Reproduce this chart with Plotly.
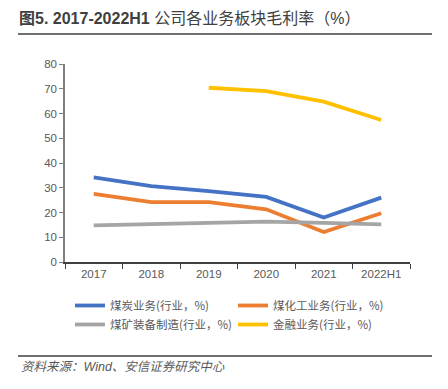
import plotly.graph_objects as go

categories = ["2017", "2018", "2019", "2020", "2021", "2022H1"]
coal = [34.2, 30.7, 28.6, 26.3, 18.0, 26.0]
coal_chem = [27.5, 24.2, 24.2, 21.3, 12.1, 19.7]
equipment = [14.8, 15.2, 15.6, 16.3, 15.8, 15.2]
finance = [None, None, 70.4, 69.0, 64.8, 57.4]

series_names = ["煤炭业务(行业，%)", "煤化工业务(行业，%)", "煤矿装备制造(行业，%)", "金融业务(行业，%)"]
colors = ["#4472C4", "#ED7D31", "#A5A5A5", "#FFC000"]

fig = go.Figure()
for name, vals, c in zip(series_names, [coal, coal_chem, equipment, finance], colors):
    fig.add_trace(go.Scatter(x=categories, y=vals, name=name, mode="lines",
                             line=dict(color=c, width=3.8), connectgaps=False))

# page body has an 8px margin, so the figure is drawn 8px smaller and coordinates offset by 8
OFF = 8
FW, FH = 448 - OFF, 389 - OFF
L, R, T, B = 65 - OFF, 410 - OFF, 64 - OFF, 262 - OFF
W, H = R - L, B - T
def px(x): return (x - OFF - L) / W
def py(y): return (B - (y - OFF)) / H

fig.update_layout(
    width=FW, height=FH,
    margin=dict(l=L, r=FW - R, t=T, b=FH - B, autoexpand=False),
    paper_bgcolor="white", plot_bgcolor="white",
    font=dict(family="Liberation Sans, Noto Sans CJK SC, sans-serif", color="#595959", size=11),
    xaxis=dict(type="category", range=[-0.5, 5.5], showline=True, linecolor="#404040", linewidth=1.5,
               ticks="outside", tickson="boundaries", ticklen=5, tickcolor="#404040",
               tickfont=dict(family="Liberation Sans, Arial, sans-serif", size=11.5, color="#595959"),
               showgrid=False, zeroline=False),
    yaxis=dict(range=[0, 80], dtick=10, showline=True, linecolor="#7f7f7f", linewidth=1.5,
               ticks="outside", ticklen=4, tickcolor="#7f7f7f",
               tickfont=dict(family="Liberation Sans, Arial, sans-serif", size=11.5, color="#595959"),
               showgrid=False, zeroline=False),
    showlegend=True,
    legend=dict(orientation="h", x=px(70), y=py(291), xanchor="left", yanchor="top",
                entrywidth=118, entrywidthmode="pixels", traceorder="normal",
                font=dict(size=11.5, color="#595959", family="Noto Sans CJK SC, sans-serif"),
                itemwidth=30, tracegroupgap=0, bgcolor="rgba(0,0,0,0)"),
    shapes=[
        dict(type="line", xref="paper", yref="paper", x0=px(18), x1=px(432), y0=py(34), y1=py(34),
             line=dict(color="#404040", width=1.5)),
        dict(type="line", xref="paper", yref="paper", x0=px(18), x1=px(432), y0=py(356), y1=py(356),
             line=dict(color="#404040", width=1.5)),
    ],
    annotations=[
        dict(text="<b>图5. 2017-2022H1</b> 公司各业务板块毛利率（%）", xref="paper", yref="paper",
             x=px(17), y=py(18), xanchor="left", yanchor="middle", showarrow=False,
             font=dict(size=16, color="#404040", family="Liberation Sans, Noto Sans CJK SC, sans-serif")),
        dict(text="<i>资料来源：Wind、安信证券研究中心</i>", xref="paper", yref="paper",
             x=px(19), y=py(367), xanchor="left", yanchor="middle", showarrow=False,
             font=dict(size=12.5, color="#595959", family="Liberation Sans, Noto Sans CJK SC, sans-serif")),
    ],
)

fig.write_html("out.html")
